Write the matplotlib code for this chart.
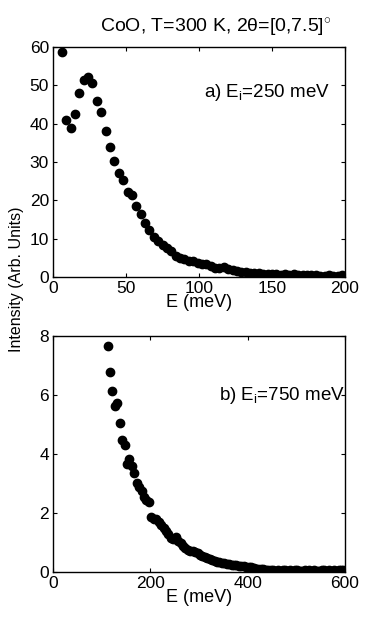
import matplotlib
matplotlib.use("Agg")
import matplotlib.pyplot as plt

plt.rcParams['font.family'] = ['Liberation Sans', 'DejaVu Sans']
plt.rcParams['mathtext.fontset'] = 'custom'
plt.rcParams['mathtext.rm'] = 'Liberation Sans'
plt.rcParams['mathtext.it'] = 'Liberation Sans'

# Panel a) Ei = 250 meV
E_a = [6, 9, 12, 15, 18, 21, 24, 27, 30, 33, 36, 39, 42, 45, 48, 51, 54, 57, 60, 63,
       66, 69, 72, 75, 78, 81, 84, 87, 90, 93, 96, 99, 102, 105, 108, 111, 114, 117, 120, 123,
       126, 129, 132, 135, 138, 141, 144, 147, 150, 153, 156, 159, 162, 165, 168, 171, 174, 177, 180, 183,
       186, 189, 192, 195, 198]
I_a = [58.7, 41.0, 39.0, 42.5, 47.9, 51.4, 52.1, 50.7, 46.0, 43.0, 38.0, 33.9, 30.3, 27.2, 25.2, 22.1, 21.5, 18.6, 16.5, 14.2,
       12.4, 10.4, 9.4, 8.4, 7.5, 6.9, 5.6, 5.1, 4.7, 4.2, 4.2, 3.8, 3.5, 3.3, 3.0, 2.5, 2.4, 2.6, 2.0, 1.8,
       1.6, 1.4, 1.3, 1.2, 1.1, 1.0, 0.9, 0.8, 0.8, 0.7, 0.6, 0.7, 0.6, 0.7, 0.6, 0.6, 0.5, 0.5, 0.5, 0.4,
       0.4, 0.5, 0.4, 0.4, 0.5]

# Panel b) Ei = 750 meV
E_b = [112, 117, 122, 127, 132, 137, 142, 147, 152, 157, 162, 167, 172, 177, 182, 187, 192, 197, 202, 207,
       212, 217, 222, 227, 232, 237, 242, 247, 252, 257, 262, 267, 272, 277, 282, 287, 292, 297, 302, 307,
       312, 317, 322, 327, 332, 337, 342, 347, 352, 357, 362, 367, 372, 377, 382, 387, 392, 397, 402, 407,
       412, 417, 422, 427, 432, 437, 442, 447, 452, 457, 462, 467, 472, 477, 482, 487, 492, 497, 502, 507,
       512, 517, 522, 527, 532, 537, 542, 547, 552, 557, 562, 567, 572, 577, 582, 587, 592, 597]
I_b = [7.68, 6.78, 6.16, 5.64, 5.73, 5.07, 4.50, 4.33, 3.67, 3.85, 3.60, 3.36, 3.02, 2.88, 2.77, 2.54, 2.45, 2.37, 1.86, 1.80,
       1.80, 1.69, 1.60, 1.50, 1.40, 1.30, 1.15, 1.13, 1.18, 1.07, 1.00, 0.90, 0.82, 0.74, 0.71, 0.73, 0.70, 0.66, 0.60, 0.56,
       0.52, 0.49, 0.45, 0.40, 0.38, 0.36, 0.34, 0.32, 0.31, 0.29, 0.27, 0.26, 0.25, 0.24, 0.22, 0.21, 0.20, 0.19, 0.18, 0.17,
       0.14, 0.12, 0.12, 0.10, 0.11, 0.09, 0.08, 0.07, 0.08, 0.06, 0.07, 0.06, 0.09, 0.07, 0.06, 0.08, 0.06, 0.07, 0.08, 0.05,
       0.06, 0.07, 0.05, 0.08, 0.06, 0.07, 0.06, 0.05, 0.08, 0.07, 0.06, 0.09, 0.06, 0.07, 0.05, 0.08, 0.07, 0.09]
err_b = [0.14, 0.10, 0.09, 0.08, 0.08, 0.07, 0.07, 0.06, 0.06, 0.06]

fig = plt.figure(figsize=(3.82, 6.43), dpi=100)
ax1 = fig.add_axes([0.139, 0.569, 0.764, 0.358])
ax2 = fig.add_axes([0.139, 0.110, 0.764, 0.367])

ms = 6
ax1.plot(E_a, I_a, 'o', color='black', ms=ms, mec='black')
ax1.set_xlim(0, 200)
ax1.set_ylim(0, 60)
ax1.set_xticks([0, 50, 100, 150, 200])
ax1.set_yticks([0, 10, 20, 30, 40, 50, 60])
ax1.set_xlabel('E (meV)', fontsize=13, labelpad=-1)
ax1.text(0.95, 0.80, r'a) E$_{\mathregular{i}}$=250 meV', transform=ax1.transAxes,
         ha='right', va='center', fontsize=13.5)

ax2.errorbar(E_b[:len(err_b)], I_b[:len(err_b)], yerr=err_b, fmt='none', ecolor='black', elinewidth=1)
ax2.plot(E_b, I_b, 'o', color='black', ms=ms, mec='black')
ax2.set_xlim(0, 600)
ax2.set_ylim(0, 8)
ax2.set_xticks([0, 200, 400, 600])
ax2.set_yticks([0, 2, 4, 6, 8])
ax2.set_xlabel('E (meV)', fontsize=13, labelpad=-1)
ax2.text(1.0, 0.75, r'b) E$_{\mathregular{i}}$=750 meV', transform=ax2.transAxes,
         ha='right', va='center', fontsize=13.5)

for ax in (ax1, ax2):
    ax.tick_params(direction='in', top=True, right=True, labelsize=12.5, length=3)
    ax.tick_params(axis='y', pad=3)
    ax.tick_params(axis='x', pad=2.5)
    for s in ax.spines.values():
        s.set_linewidth(1.0)

fig.text(0.042, 0.565, 'Intensity (Arb. Units)', rotation=90, ha='center', va='center', fontsize=11.5)
fig.text(0.565, 0.956, r'CoO, T=300 K, 2θ=[0,7.5]$^{\circ}$', ha='center', va='center', fontsize=14)

fig.savefig('out.png', dpi=100)
